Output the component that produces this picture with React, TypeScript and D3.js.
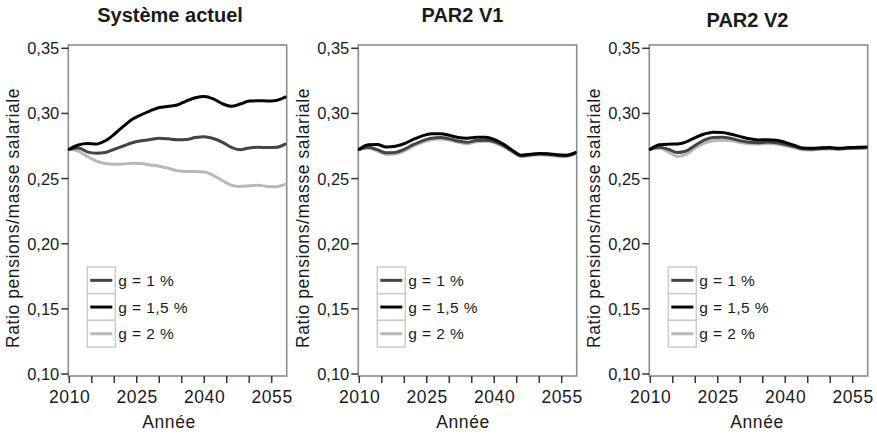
import React from "react";
import * as d3 from "d3";

// ---------- DATA ----------
const years = [2010, 2012, 2014, 2016, 2018, 2020, 2022, 2024, 2026, 2028, 2030, 2032, 2034, 2036, 2038, 2040, 2042, 2044, 2046, 2048, 2050, 2052, 2054, 2056, 2058];

const panelTitles = ["Système actuel", "PAR2 V1", "PAR2 V2"];
const seriesLabels = ["g = 1 %", "g = 1,5 %", "g = 2 %"];
const seriesColors = ["#444444", "#050505", "#b8b8b8"];

// Système actuel
const actuelG1 = [0.2725, 0.2735, 0.2705, 0.2695, 0.2700, 0.2725, 0.2750, 0.2775, 0.2790, 0.2800, 0.2810, 0.2805, 0.2798, 0.2800, 0.2815, 0.2822, 0.2808, 0.2780, 0.2740, 0.2722, 0.2735, 0.2740, 0.2738, 0.2740, 0.2765];
const actuelG15 = [0.2725, 0.2758, 0.2770, 0.2765, 0.2790, 0.2840, 0.2900, 0.2955, 0.2990, 0.3020, 0.3045, 0.3055, 0.3065, 0.3095, 0.3120, 0.3130, 0.3112, 0.3075, 0.3055, 0.3072, 0.3095, 0.3098, 0.3096, 0.3100, 0.3125];
const actuelG2 = [0.2725, 0.2710, 0.2670, 0.2635, 0.2615, 0.2610, 0.2612, 0.2618, 0.2615, 0.2605, 0.2595, 0.2580, 0.2560, 0.2555, 0.2555, 0.2550, 0.2525, 0.2485, 0.2450, 0.2440, 0.2445, 0.2448, 0.2440, 0.2438, 0.2455];

// PAR2 V1
const v1G1 = [0.2725, 0.2740, 0.2722, 0.2698, 0.2700, 0.2725, 0.2760, 0.2790, 0.2810, 0.2815, 0.2805, 0.2788, 0.2778, 0.2792, 0.2795, 0.2785, 0.2755, 0.2712, 0.2675, 0.2682, 0.2688, 0.2686, 0.2678, 0.2676, 0.2695];
const v1G15 = [0.2725, 0.2760, 0.2762, 0.2742, 0.2748, 0.2768, 0.2800, 0.2828, 0.2845, 0.2845, 0.2832, 0.2815, 0.2810, 0.2817, 0.2818, 0.2800, 0.2765, 0.2718, 0.2680, 0.2687, 0.2693, 0.2690, 0.2682, 0.2680, 0.2700];
const v1G2 = [0.2725, 0.2732, 0.2712, 0.2685, 0.2688, 0.2712, 0.2748, 0.2778, 0.2797, 0.2803, 0.2795, 0.2778, 0.2768, 0.2782, 0.2786, 0.2776, 0.2745, 0.2703, 0.2668, 0.2676, 0.2682, 0.2680, 0.2672, 0.2670, 0.2690];

// PAR2 V2
const v2G1 = [0.2725, 0.2740, 0.2725, 0.2700, 0.2712, 0.2755, 0.2795, 0.2815, 0.2818, 0.2808, 0.2790, 0.2778, 0.2775, 0.2780, 0.2775, 0.2762, 0.2745, 0.2728, 0.2726, 0.2730, 0.2732, 0.2728, 0.2733, 0.2735, 0.2738];
const v2G15 = [0.2725, 0.2760, 0.2764, 0.2765, 0.2782, 0.2815, 0.2842, 0.2856, 0.2854, 0.2840, 0.2822, 0.2805, 0.2797, 0.2798, 0.2795, 0.2778, 0.2756, 0.2735, 0.2733, 0.2736, 0.2738, 0.2733, 0.2738, 0.2740, 0.2742];
const v2G2 = [0.2725, 0.2732, 0.2705, 0.2670, 0.2685, 0.2735, 0.2772, 0.2790, 0.2795, 0.2790, 0.2778, 0.2768, 0.2765, 0.2770, 0.2765, 0.2752, 0.2737, 0.2722, 0.2720, 0.2725, 0.2727, 0.2724, 0.2728, 0.2730, 0.2733];

const yTicks = [0.10, 0.15, 0.20, 0.25, 0.30, 0.35];
const yTickLabels = ["0,10", "0,15", "0,20", "0,25", "0,30", "0,35"];
const xTicks = [2010, 2015, 2020, 2025, 2030, 2035, 2040, 2045, 2050, 2055];
const xTickLabels = ["2010", "", "", "2025", "", "", "2040", "", "", "2055"];
const yAxisTitle = "Ratio pensions/masse salariale";
const xAxisTitle = "Année";

const panelData = [
  [actuelG1, actuelG15, actuelG2],
  [v1G1, v1G15, v1G2],
  [v2G1, v2G15, v2G2],
];

// ---------- LAYOUT ----------
const W = 877;
const H = 434;
const panelOffsets = [0, 290, 581];
const titleX = [170, 172.5, 166.5];
const titleY = [22, 22, 27];
const xTitleX = [169, 173, 176];
const frameTop = 45;
const frameBottom = 376;
const FONT = "'Liberation Sans', Arial, Helvetica, sans-serif";
const drawOrder = [2, 0, 1];

function Panel({ idx }: { idx: number }) {
  const off = panelOffsets[idx];
  const frameLeft = off + 68.3;
  const frameRight = off + 286.7;
  const x = d3.scaleLinear().domain([2010, 2055]).range([off + 69.3, off + 271.7]);
  const y = d3.scaleLinear().domain([0.10, 0.35]).range([374, 48.3]);
  const line = d3
    .line<number>()
    .x((_, i) => x(years[i]))
    .y((d) => y(d))
    .curve(d3.curveMonotoneX);
  const series = panelData[idx];
  const legX = frameLeft + 19;
  const legY = 267;
  const rowH = 26.7;
  return (
    <g>
      <text
        x={off + titleX[idx]}
        y={titleY[idx]}
        textAnchor="middle"
        fontFamily={FONT}
        fontWeight="bold"
        fontSize={20}
        fill="#1a1a1a"
      >
        {panelTitles[idx]}
      </text>
      {/* frame */}
      <rect
        x={frameLeft}
        y={frameTop}
        width={frameRight - frameLeft}
        height={frameBottom - frameTop}
        fill="white"
        stroke="#8c8c8c"
        strokeWidth={1.6}
      />
      {/* y ticks */}
      {yTicks.map((t, i) => (
        <g key={"yt" + i}>
          <line x1={frameLeft - 7} x2={frameLeft} y1={y(t)} y2={y(t)} stroke="#333" strokeWidth={1.5} />
          <text
            x={frameLeft - 9}
            y={y(t)}
            dy="0.36em"
            textAnchor="end"
            fontFamily={FONT}
            fontSize={16.5}
            fill="#1a1a1a"
          >
            {yTickLabels[i]}
          </text>
        </g>
      ))}
      {/* x ticks */}
      {xTicks.map((t, i) => (
        <g key={"xt" + i}>
          <line x1={x(t)} x2={x(t)} y1={frameBottom} y2={frameBottom + 7} stroke="#333" strokeWidth={1.5} />
          {xTickLabels[i] && (
            <text
              x={x(t) + 0.4}
              y={403}
              textAnchor="middle"
              fontFamily={FONT}
              fontSize={17.5}
              letterSpacing={0.6}
              fill="#1a1a1a"
            >
              {xTickLabels[i]}
            </text>
          )}
        </g>
      ))}
      {/* axis titles */}
      <text
        transform={`translate(${off + 19},${218}) rotate(-90)`}
        textAnchor="middle"
        fontFamily={FONT}
        fontSize={17.5}
        letterSpacing={0.6}
        fill="#1a1a1a"
      >
        {yAxisTitle}
      </text>
      <text
        x={off + xTitleX[idx]}
        y={428}
        textAnchor="middle"
        fontFamily={FONT}
        fontSize={17.5}
        letterSpacing={0.6}
        fill="#1a1a1a"
      >
        {xAxisTitle}
      </text>
      {/* lines */}
      {drawOrder.map((s) => (
        <path
          key={"l" + s}
          d={line(series[s]) || ""}
          fill="none"
          stroke={seriesColors[s]}
          strokeWidth={3}
          strokeLinejoin="round"
          strokeLinecap="round"
        />
      ))}
      {/* legend */}
      {seriesLabels.map((lab, i) => (
        <g key={"lg" + i}>
          <rect
            x={legX}
            y={legY + i * rowH}
            width={28}
            height={rowH}
            fill="white"
            stroke="#cccccc"
            strokeWidth={1.5}
          />
          <line
            x1={legX + 3}
            x2={legX + 25}
            y1={legY + i * rowH + rowH / 2}
            y2={legY + i * rowH + rowH / 2}
            stroke={seriesColors[i]}
            strokeWidth={3}
          />
          <text
            x={legX + 31}
            y={legY + i * rowH + rowH / 2 + 5.5}
            fontFamily={FONT}
            fontSize={15.5}
            letterSpacing={0.4}
            fill="#1a1a1a"
          >
            {lab}
          </text>
        </g>
      ))}
    </g>
  );
}

export default function App() {
  return (
    <svg
      width={W}
      height={H}
      viewBox={`0 0 ${W} ${H}`}
      style={{ position: "absolute", left: 0, top: 0, background: "white" }}
    >
      <rect x={0} y={0} width={W} height={H} fill="white" />
      {[0, 1, 2].map((i) => (
        <Panel key={i} idx={i} />
      ))}
    </svg>
  );
}
